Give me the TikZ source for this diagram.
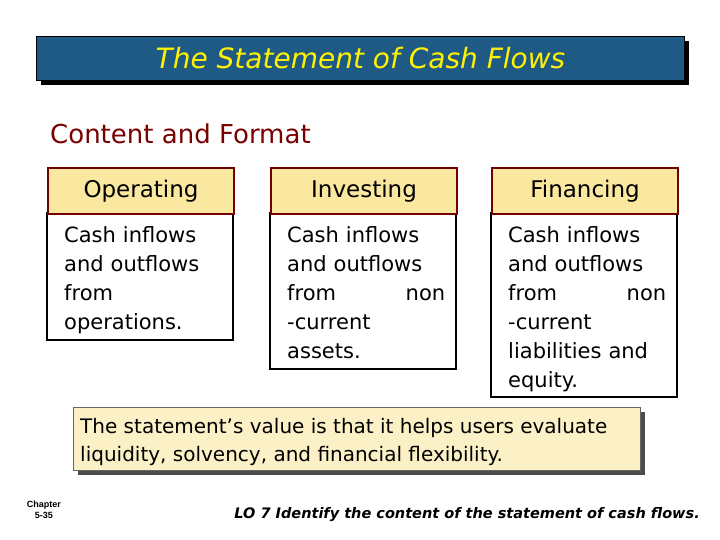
\documentclass[tikz,border=0pt]{standalone}
\usepackage{fontspec}
\setmainfont{DejaVu Sans}
\newfontfamily\arialf{Liberation Sans}
\begin{document}
\begin{tikzpicture}[x=1pt,y=-1pt,
  hdr/.style={draw=red!45!black,line width=2pt,fill=hdrfill,minimum width=186pt,minimum height=46pt,font=\fontsize{23}{26}\selectfont},
  bodybox/.style={draw=black,line width=1.2pt,fill=white},
  btext/.style={font=\fontsize{21}{29}\selectfont,align=left,text width=158pt,anchor=north west,inner sep=0pt}]
\definecolor{hdrfill}{HTML}{FAE7A0}
\definecolor{titleblue}{HTML}{1F5A84}
\definecolor{darkred}{HTML}{7A0000}
\useasboundingbox (0,0) rectangle (720,540);
\fill[white] (0,0) rectangle (720,540);
% title
\fill[black] (41,41) rectangle (689,85);
\node[draw=black,line width=1pt,fill=titleblue,minimum width=648pt,minimum height=44pt,anchor=north west,inner sep=0pt,text=yellow,font=\fontsize{28}{30}\selectfont\itshape] (title) at (36,36) {The Statement of Cash Flows};
\node[anchor=west,text=darkred,font=\fontsize{26}{28}\selectfont,inner sep=0pt] (cf) at (50,134) {Content and Format};
% columns
\foreach \n/\x/\h/\t/\txt in {op/47/127/Operating/{Cash inflows\\and outflows\\from\\operations.},
  inv/270/156/Investing/{Cash inflows\\and outflows\\from\hfill non\\-current\\assets.},
  fin/491/184/Financing/{Cash inflows\\and outflows\\from\hfill non\\-current\\liabilities and\\equity.}}{
  \draw[bodybox] (\x,213) rectangle ++(186,\h);
  \node[hdr,anchor=north west] (\n) at (\x,167) {\t};
  \node[btext] (\n b) at (\x+17,226) {\txt};
}
% value box
\fill[black!70] (78,412) rectangle (645,475);
\node[draw=black!60,fill=hdrfill!60!white,minimum width=567pt,minimum height=63pt,anchor=north west,inner sep=0pt] (val) at (73,407) {};
\node[anchor=north west,inner sep=0pt,align=left,font=\fontsize{20}{28}\selectfont] (valt) at (80,418) {The statement’s value is that it helps users evaluate\\liquidity, solvency, and financial flexibility.};
\node[font=\arialf\bfseries\fontsize{9}{11}\selectfont,align=center,inner sep=0pt] (ch) at (44,510) {Chapter\\5-35};
\node[anchor=east,inner sep=0pt,font=\bfseries\itshape\fontsize{14.5}{16}\selectfont] (lo) at (700,515) {LO 7 Identify the content of the statement of cash flows.};
\end{tikzpicture}
\end{document}
